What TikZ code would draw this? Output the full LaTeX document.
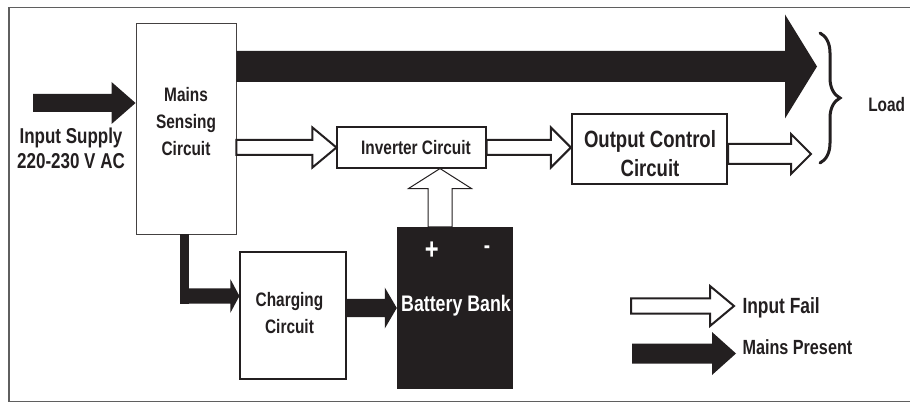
\documentclass[tikz,border=0pt]{standalone}
\usepackage{fontspec}
\newfontfamily\nar[FakeStretch=0.79]{Liberation Sans}
\usetikzlibrary{calc,decorations.pathreplacing}
\definecolor{ink}{RGB}{35,31,32}
\definecolor{framecol}{RGB}{95,95,95}
\newcommand\fsz[2]{\fontsize{#1}{#2}\selectfont}
\newcommand\ml[1]{\begin{tabular}[t]{@{}c@{}}#1\end{tabular}}
% block arrow: #1 style, #2 start, #3 tip, #4 shaft half width, #5 head half width, #6 head length
\newcommand\barrow[6]{%
  \coordinate (bah) at ($(#3)!#6!(#2)$);
  \draw[#1] ($(#2)!#4!90:(#3)$) -- ($(bah)!#4!-90:(#2)$) -- ($(bah)!#5!-90:(#2)$) -- (#3)
    -- ($(bah)!#5!90:(#2)$) -- ($(bah)!#4!90:(#2)$) -- ($(#2)!#4!-90:(#3)$) -- cycle;}
\begin{document}
\begin{tikzpicture}[x=1pt,y=-1pt,
  box/.style={draw=ink, line width=1.1pt, inner sep=0pt, fill=white},
  lbl/.style={inner sep=0pt, anchor=base, text=ink, font=\nar\bfseries},
  blk/.style={fill=ink, draw=none},
  opn/.style={fill=white, draw=ink, line width=2pt, line join=miter},
  opnthin/.style={fill=white, draw=ink, line width=1pt, line join=miter}]
\useasboundingbox (0,0) rectangle (910,403);
\draw[framecol, line width=1.3pt] (910,7.3) -- (9,7.3) -- (9,401.7) -- (910,401.7);

% boxes
\node[box, draw=ink!85, line width=0.9pt, minimum width=100pt, minimum height=211pt] (ms) at (186,128.5) {};
\node[box, minimum width=149pt, minimum height=41pt] (inv) at (411.5,147.5) {};
\node[box, line width=2.2pt, minimum width=155pt, minimum height=70pt] (oc) at (649.5,149) {};
\node[box, minimum width=106pt, minimum height=127pt] (chg) at (293,315.5) {};
\node[fill=ink, draw=none, inner sep=0pt, minimum width=116pt, minimum height=162pt] (bat) at (455,308) {};

% arrows
\coordinate (inS) at (33,103);
\coordinate (inE) at (ms.west |- inS);
\barrow{blk}{inS}{inE}{9pt}{21pt}{24pt}

\coordinate (bigS) at (ms.east |- 0,66.5);
\coordinate (bigE) at (817,66.5);
\barrow{blk}{bigS}{bigE}{15.5pt}{52pt}{32pt}

\coordinate (a3S) at (ms.east |- inv.west);
\barrow{opn}{a3S}{inv.west}{7.5pt}{20pt}{24pt}

\coordinate (a4E) at (oc.west |- inv.east);
\barrow{opn}{inv.east}{a4E}{7.5pt}{20pt}{20pt}

\coordinate (a5S) at (oc.east |- 0,154);
\coordinate (a5E) at (811,154);
\barrow{opn}{a5S}{a5E}{10pt}{20pt}{20pt}

\coordinate (a6S) at (bat.north -| 440,0);
\coordinate (a6E) at (inv.south -| 440,0);
\barrow{opnthin}{a6S}{a6E}{12pt}{31.5pt}{20pt}

\coordinate (a7S) at (chg.east |- 0,308);
\coordinate (a7E) at (bat.west |- a7S);
\barrow{blk}{a7S}{a7E}{9pt}{20.5pt}{12pt}

\coordinate (elb) at (184.5,296);
\fill[ink] (ms.south -| elb) ++(-4.5,0) rectangle ($(elb)+(4.5,7.7)$);
\coordinate (a8S) at ($(elb)+(-4.5,0)$);
\coordinate (a8E) at (chg.west |- elb);
\barrow{blk}{a8S}{a8E}{7.7pt}{16.7pt}{9pt}

% legend arrows
\coordinate (l1S) at (631,306);
\coordinate (l1E) at (734,306);
\barrow{opn}{l1S}{l1E}{7.5pt}{20pt}{24pt}
\coordinate (l2S) at (632,353.5);
\coordinate (l2E) at (736,353.5);
\barrow{blk}{l2S}{l2E}{10pt}{21.5pt}{24pt}

% brace
\coordinate (brT) at (820,33);
\coordinate (brB) at (820,163);
\draw[ink, line width=3pt, line cap=round, decorate, decoration={brace, amplitude=20pt}] (brT) -- (brB);

% labels
\node[lbl] (tin) at (71,143.3) {\fsz{21.5}{25}\ml{Input Supply\\220-230 V AC}};
\node[lbl] (tms) at (186,101.7) {\fsz{19.5}{26.7}\ml{Mains\\Sensing\\Circuit}};
\node[lbl] (tinv) at (416,154.7) {\fsz{19.5}{24}Inverter Circuit};
\node[lbl] (toc) at (650,148) {\fsz{23.5}{28.7}\ml{Output Control\\Circuit}};
\node[lbl] (tchg) at (289.5,306) {\fsz{19.5}{27}\ml{Charging\\Circuit}};
\node[lbl, text=white] (tbat) at (456,311.7) {\fsz{22.5}{26}Battery Bank};
\node[lbl, text=white] (tplus) at (431.7,259.5) {\fsz{30}{32}+};
\node[lbl, text=white] (tminus) at (487,254) {\fsz{24}{26}-};
\node[lbl] (tload) at (886.7,111.7) {\fsz{19.5}{24}Load};
\node[lbl, anchor=base west] (tfail) at (742.3,313.3) {\fsz{22}{24}Input Fail};
\node[lbl, anchor=base west] (tpres) at (742.3,354) {\fsz{20.5}{24}Mains Present};
\end{tikzpicture}
\end{document}
